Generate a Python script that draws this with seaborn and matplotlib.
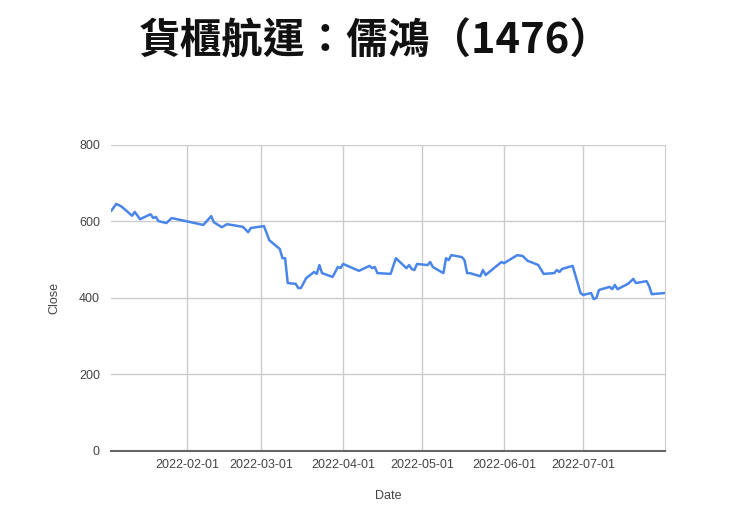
import pandas as pd
import seaborn as sns
import matplotlib.pyplot as plt
import matplotlib.dates as mdates

# closing prices (key points)
dates = [
    '2022-01-03', '2022-01-05', '2022-01-07', '2022-01-11', '2022-01-12', '2022-01-14',
    '2022-01-18', '2022-01-19', '2022-01-20', '2022-01-21', '2022-01-24', '2022-01-26',
    '2022-02-07', '2022-02-10', '2022-02-11', '2022-02-14', '2022-02-16', '2022-02-22',
    '2022-02-24', '2022-02-25', '2022-03-02', '2022-03-04', '2022-03-08', '2022-03-09',
    '2022-03-10', '2022-03-11', '2022-03-14', '2022-03-15', '2022-03-16', '2022-03-18',
    '2022-03-21', '2022-03-22', '2022-03-23', '2022-03-24', '2022-03-28', '2022-03-30',
    '2022-03-31', '2022-04-01', '2022-04-07', '2022-04-11', '2022-04-12', '2022-04-13',
    '2022-04-14', '2022-04-19', '2022-04-21', '2022-04-25', '2022-04-26', '2022-04-27',
    '2022-04-28', '2022-04-29', '2022-05-03', '2022-05-04', '2022-05-05', '2022-05-09',
    '2022-05-10', '2022-05-11', '2022-05-12', '2022-05-16', '2022-05-17', '2022-05-18',
    '2022-05-19', '2022-05-23', '2022-05-24', '2022-05-25', '2022-05-31', '2022-06-01',
    '2022-06-06', '2022-06-08', '2022-06-10', '2022-06-13', '2022-06-14', '2022-06-16',
    '2022-06-20', '2022-06-21', '2022-06-22', '2022-06-23', '2022-06-24', '2022-06-27',
    '2022-06-30', '2022-07-01', '2022-07-04', '2022-07-05', '2022-07-06', '2022-07-07',
    '2022-07-11', '2022-07-12', '2022-07-13', '2022-07-14', '2022-07-18', '2022-07-20',
    '2022-07-21', '2022-07-25', '2022-07-26', '2022-07-27', '2022-08-01',
]
close = [
    627, 646, 639, 615, 625, 606,
    619, 609, 612, 601, 596, 609,
    591, 614, 598, 585, 593, 586,
    572, 583, 588, 551, 528, 504,
    504, 439, 437, 426, 426, 452,
    468, 463, 486, 465, 455, 481,
    478, 489, 471, 484, 478, 481,
    465, 463, 504, 478, 486, 476,
    473, 489, 486, 494, 481, 465,
    504, 499, 512, 507, 499, 465,
    465, 457, 473, 460, 494, 491,
    512, 510, 497, 489, 486, 463,
    465, 473, 468, 476, 478, 484,
    413, 408, 413, 397, 400, 421,
    429, 423, 434, 423, 437, 450,
    439, 444, 431, 410, 413,
]
tick_dates = ['2022-02-01', '2022-03-01', '2022-04-01', '2022-05-01', '2022-06-01', '2022-07-01']
y_ticks = [0, 200, 400, 600, 800]

df = pd.DataFrame({'Date': pd.to_datetime(dates), 'Close': close})

sns.set_style('white')
plt.rcParams['font.family'] = ['Liberation Sans', 'DejaVu Sans']

fig = plt.figure(figsize=(7.4, 5.21), dpi=100)
ax = fig.add_axes([0.15, 0.1344, 0.7486, 0.5873])

sns.lineplot(data=df, x='Date', y='Close', color='#4a86e8', linewidth=1.8, ax=ax)

ax.set_xlim(df['Date'].min(), df['Date'].max())
ax.set_ylim(0, 800)
ax.set_yticks(y_ticks)
ax.set_xticks(pd.to_datetime(tick_dates))
ax.xaxis.set_major_formatter(mdates.DateFormatter('%Y-%m-%d'))
ax.grid(True, color='#cccccc', linewidth=1)
ax.tick_params(length=0, labelsize=9, labelcolor='#444444')
ax.tick_params(axis='y', pad=8)
ax.tick_params(axis='x', pad=6)

for side in ['top', 'left']:
    ax.spines[side].set_visible(False)
ax.spines['right'].set_color('#cccccc')
ax.spines['bottom'].set_color('#666666')
ax.spines['bottom'].set_linewidth(1.5)

ax.set_xlabel('Date', fontsize=9, color='#444444')
ax.set_ylabel('Close', fontsize=9, color='#444444')
ax.xaxis.set_label_coords(0.5, -0.127)
ax.yaxis.set_label_coords(-0.092, 0.5)

fig.text(0.507, 0.921, '貨櫃航運：儒鴻（1476）', ha='center', va='center',
         fontsize=30, fontweight='black', color='#111111',
         family=['Noto Sans CJK TC', 'DejaVu Sans'])

fig.savefig('out.png', dpi=100, facecolor='white')
